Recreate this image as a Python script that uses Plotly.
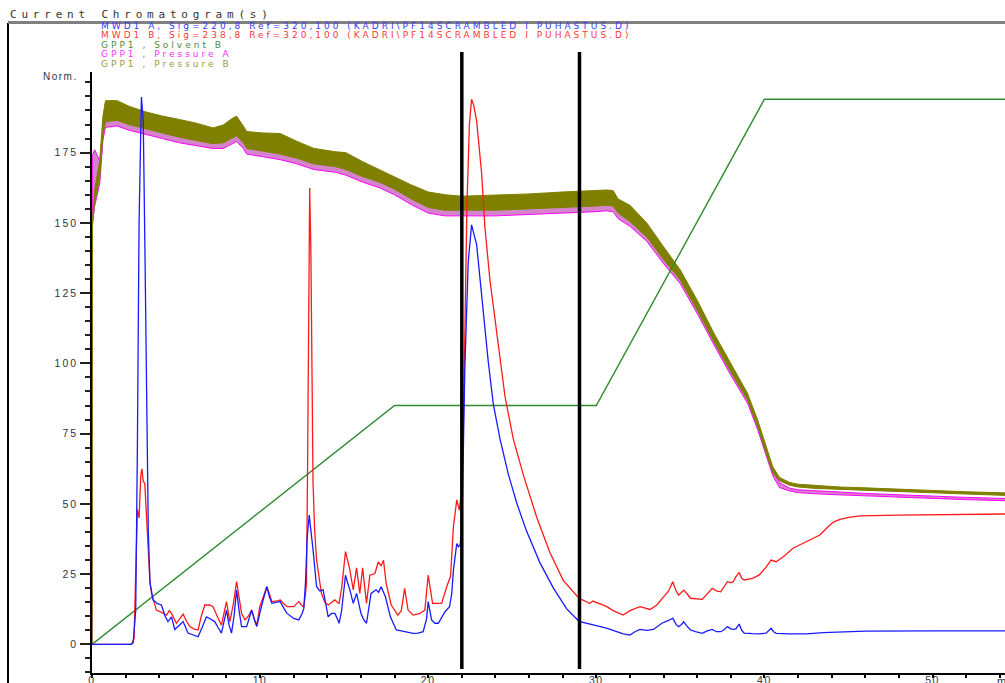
import plotly.graph_objects as go

# ---- MWD1 A (220 nm) ----
t_a = [0, 2.3, 2.45, 2.6, 2.7, 2.8, 2.94, 3.05, 3.15, 3.25, 3.35, 3.45, 3.63, 3.9, 4.13, 4.35, 4.52,
       4.73, 4.92, 5.15, 5.42, 5.71, 6.0, 6.31, 6.55, 6.81, 7.05, 7.3, 7.5, 7.7, 7.85, 8.0, 8.15, 8.3,
       8.45, 8.6, 8.75, 8.9, 9.2, 9.35, 9.5, 9.65, 9.8, 10.1, 10.4, 10.55, 10.7, 11.0, 11.2, 11.4, 11.6,
       12.0, 12.3, 12.5, 12.6, 12.7, 12.8, 12.92, 13.05, 13.15, 13.36, 13.55, 13.75, 13.9, 14.05, 14.25,
       14.45, 14.6, 14.7, 14.85, 15.08, 15.2, 15.34, 15.54, 15.74, 16.0, 16.15, 16.33, 16.6, 16.9, 17.05,
       17.2, 17.45, 17.75, 18.1, 18.4, 18.7, 19.1, 19.4, 19.7, 19.9, 20.0, 20.2, 20.4, 20.6, 20.85, 21.0,
       21.27, 21.4, 21.5, 21.7, 21.8, 21.9, 22.0, 22.1, 22.18, 22.38, 22.58, 22.88, 23.08, 23.27, 23.57,
       23.87, 24.27, 24.77, 25.26, 25.85, 26.65, 27.44, 28.24, 28.97, 29.6, 30.2, 30.6, 31.0, 31.6, 32.0,
       32.3, 32.6, 33.0, 33.4, 33.9, 34.3, 34.55, 34.75, 34.9, 35.05, 35.2, 35.4, 35.6, 35.9, 36.3, 36.6,
       36.9, 37.15, 37.4, 37.6, 37.8, 38.0, 38.15, 38.3, 38.5, 38.65, 38.8, 39.3, 39.7, 40.1, 40.4, 40.55,
       40.7, 41.5, 42.5, 43.5, 44.7, 46, 50, 54.4]
sig_a = [0, 0, 0.5, 12, 70, 150, 194.8, 186, 140, 80, 40, 22, 15.8, 14.5, 14, 10, 8.1,
         9.8, 5.3, 6.5, 8.1, 4.0, 3.3, 2.7, 6, 9.8, 9, 8.1, 6, 4.0, 8, 12.2, 7, 4.0,
         10, 19.3, 12, 6.3, 6.3, 9, 12.2, 9, 6.3, 14, 20.5, 17, 14.6, 15, 15.2, 13, 11,
         9.2, 8.7, 11, 12.8, 22, 38, 46, 40, 33.6, 20.5, 19, 19.4, 14, 9.8, 11,
         11, 9, 7.5, 12, 24.6, 22, 19.4, 14.6, 18.1, 11, 9, 7.5, 18.1, 19.4, 18.5,
         20.5, 17, 9.8, 5.1, 4.8, 4.5, 3.9, 4, 4.5, 9, 15.2, 8.7, 7.5, 7.5, 10, 11.6,
         13.4, 18, 26.4, 35.9, 34.7, 35.5, 40, 70, 98.3, 136, 149.3, 142.3, 129.8, 117.2, 100.8,
         85.7, 73.1, 60.5, 50.4, 40.3, 29, 20.1, 12.6, 8.2, 7.3, 6.5, 5.8, 5, 3.7, 3.3,
         4.5, 5.3, 5.0, 5.3, 7.5, 8.5, 9.3, 7, 6.3, 7, 8.0, 6.5, 5.1, 4.5, 3.9, 4.8,
         5.3, 4.5, 4.5, 5.2, 6.3, 5.5, 5.3, 5.5, 7.2, 5, 4.0, 3.8, 3.7, 4, 5.7, 4.5,
         3.9, 3.7, 3.7, 4.2, 4.5, 4.7, 4.8, 4.8]

# ---- MWD1 B (238 nm) ----
t_b = [0, 2.35, 2.5, 2.6, 2.7, 2.8, 2.9, 2.97, 3.05, 3.14, 3.25, 3.33, 3.45, 3.54, 3.83, 4.1, 4.43,
       4.6, 4.73, 5.02, 5.2, 5.42, 5.6, 5.82, 6.05, 6.31, 6.5, 6.71, 7.0, 7.2, 7.45, 7.7, 7.85, 8.0,
       8.2, 8.4, 8.6, 8.75, 8.9, 9.1, 9.3, 9.5, 9.65, 9.8, 9.98, 10.2, 10.4, 10.55, 10.7, 11.0, 11.2,
       11.4, 11.6, 12.0, 12.3, 12.45, 12.6, 12.7, 12.76, 12.82, 12.88, 12.95, 13.02, 13.1, 13.15, 13.25,
       13.36, 13.65, 13.85, 14.05, 14.25, 14.45, 14.6, 14.7, 14.85, 15.0, 15.08, 15.2, 15.34, 15.54,
       15.74, 15.93, 16.1, 16.33, 16.53, 16.83, 17.03, 17.2, 17.34, 17.5, 17.8, 18.2, 18.4, 18.6, 18.8,
       19.1, 19.5, 19.8, 20.0, 20.26, 20.5, 20.8, 21.1, 21.33, 21.5, 21.7, 21.85, 22.0, 22.1, 22.2, 22.3,
       22.45, 22.58, 22.7, 22.88, 23.18, 23.37, 23.67, 24.07, 24.57, 25.06, 25.65, 26.45, 27.24, 28.04,
       28.97, 29.3, 29.6, 29.8, 30.2, 30.6, 31.0, 31.6, 32.0, 32.6, 33.2, 33.6, 34.0, 34.3, 34.55, 34.75,
       34.9, 35.05, 35.2, 35.4, 35.6, 36.3, 36.6, 36.9, 37.15, 37.4, 37.6, 37.8, 38.0, 38.15, 38.3, 38.5,
       38.65, 38.8, 39.3, 39.7, 40.1, 40.4, 40.7, 41.2, 41.7, 42.5, 43.3, 43.7, 44.1, 44.5, 45.1, 45.7,
       48, 54.4]
sig_b = [0, 0, 2, 25, 48, 45, 60, 62.5, 58, 57.3, 45, 33.6, 22, 18.1, 12.2, 11.5, 10.4,
         12, 11.0, 7.5, 9, 10.8, 8.5, 6.3, 5.5, 5.1, 10, 14.0, 14, 13.4, 10, 6.8, 11, 15.2,
         8.1, 14, 22.3, 16, 11, 8.7, 10, 12.2, 9, 6.8, 13.4, 17, 20.5, 18, 15.2, 15.5, 15.8,
         14.5, 13.4, 13.4, 15.2, 14, 13.4, 18, 21.7, 60, 130, 162.4, 140, 80, 57.3, 40,
         30, 18.1, 15, 14.0, 15, 15.8, 15, 14.6, 20, 30, 33, 30, 26.5, 19.4,
         27.2, 18.1, 27.2, 14.6, 24.6, 25.2, 29.3, 28, 29.9, 21.7, 14, 10.4, 12, 19.9, 12.2,
         10.4, 11, 12.2, 24.6, 14.6, 14.5, 14.6, 20.5, 24.2, 41.9, 51.4, 47.8, 55, 80, 120, 155,
         185, 194, 192, 186.4, 167.5, 148.6, 129.8, 110.9, 88.2, 73.1, 60.5, 45.3, 32.7, 22.7,
         16.4, 15.5, 14.5, 15.4, 14.5, 13.5, 12, 10.4, 12, 13.4, 12.4, 14, 16.9, 19, 22.3, 19,
         17.5, 18.5, 19.3, 18, 16.4, 16.0, 18, 19.9, 19, 18.7, 20.5, 22.3, 22, 22.3, 24, 25.6,
         23.5, 22.9, 23.5, 24.7, 27.5, 30, 29.4, 31.5, 34.2, 36.5, 38.9, 41.3, 43.5, 44.5, 45.3, 45.7,
         46, 46.4]

# ---- GPP1 Solvent B program ----
t_solv = [0, 18, 30, 40, 54.4]
solvent_b = [0, 85, 85, 194, 194]

# ---- GPP1 pressure traces (upper / lower edge of the noisy signal band) ----
t_p = [0, 0.02, 0.16, 0.46, 0.65, 0.8, 1.5, 2.2, 3.2, 4.2, 5.2, 6.2, 7.2, 7.8, 8.3, 8.6, 9.0, 9.2,
       10.2, 11.2, 12.2, 13.2, 14.5, 15.1, 16.1, 17.1, 18, 19, 20, 21, 22, 24, 26, 28, 30, 30.6, 31.0,
       31.3, 32, 33, 34, 35, 36, 37, 38, 39, 39.6, 40.1, 40.5, 40.9, 41.5, 42, 43, 44.5, 46, 48, 50,
       52, 54.4]
press_b_hi = [0, 150, 162, 172, 188, 193.5, 193.5, 191.5, 189.5, 188, 186.8, 185.5, 183.8, 184.8, 187,
              188, 184.5, 182.5, 182, 181.8, 179, 176.5, 175.3, 175, 171.8, 169, 166.5, 163.5, 161,
              160, 159.5, 159.8, 160.3, 161, 161.5, 161.7, 161.5, 158.5, 156.3, 150, 141.5, 133.2,
              122.5, 110.7, 100, 89.3, 79.8, 70.3, 63.2, 59.4, 57.6, 57.0, 56.5, 56.0, 55.7, 55.2,
              54.8, 54.3, 53.9]
press_b_lo = [0, 148, 157, 166, 181, 186, 186.5, 185, 183.5, 182, 180.5, 179.3, 178.2, 178.5, 180,
              181, 178.5, 176.5, 175.5, 174.5, 173, 171, 170, 169, 166.5, 164.5, 162, 158.5, 155.5,
              154.5, 154.5, 154.5, 155, 155.5, 156, 156.3, 156, 153.5, 150.5, 145, 137, 129.6,
              119, 107.7, 97, 86.9, 77.4, 68, 61, 58.2, 56.6, 56.0, 55.5, 55.0, 54.7, 54.3,
              53.9, 53.5, 53.0]
press_a_hi = [0, 174, 176, 172, 184, 189, 189, 187.5, 186, 184.5, 183, 182, 180.5, 181, 183,
              184, 181, 179, 178.5, 177.5, 175.5, 173.5, 172.5, 171.5, 169, 167, 164.5, 161, 158,
              157, 157, 157, 157.5, 158, 158.5, 158.8, 158.5, 156, 153.5, 147.5, 139.5, 131.5,
              121, 109.5, 98.5, 88, 78.5, 69, 62, 57.5, 55.6, 55.0, 54.6, 54.2, 53.7, 53.2,
              52.8, 52.3, 51.9]
press_a_lo = [0, 150, 156, 164, 179.5, 184, 184.5, 183, 181.5, 180, 178.5, 177.5, 176.5, 176.5, 178,
              179, 176.5, 174.5, 173.5, 172.5, 171, 169, 168, 167, 164.5, 162.5, 160, 156.5, 153.5,
              152.5, 152.5, 152.5, 153, 153.5, 154, 154.3, 154, 151.5, 148.8, 143.5, 135.5, 128.3,
              117.8, 106.6, 95.8, 85.8, 76.4, 67, 60, 55.8, 54.6, 54.0, 53.6, 53.2, 52.7, 52.3,
              51.9, 51.5, 51.1]

# fraction cut markers (min)
cut_times = [22.0, 29.0]

# axis ticks
y_ticks = [0, 25, 50, 75, 100, 125, 150, 175]
x_ticks = [0, 10, 20, 30, 40, 50]

legend_lines = [
    ("MWD1 A, Sig=220,8 Ref=320,100 (KADRI\\PF14SCRAMBLED I PUHASTUS.D)", "#3a3aff"),
    ("MWD1 B, Sig=238,8 Ref=320,100 (KADRI\\PF14SCRAMBLED I PUHASTUS.D)", "#ff3a3a"),
    ("GPP1 , Solvent B", "#4d8c3a"),
    ("GPP1 , Pressure A", "#ff33ff"),
    ("GPP1 , Pressure B", "#9c9c3c"),
]

W, H = 1005, 683
L, T, B = 92, 72, 10
plot_h = H - T - B
plot_w = W - L


def py(px_y):
    """page pixel row -> paper y"""
    return (H - B - px_y) / plot_h


def px(px_x):
    """page pixel column -> paper x"""
    return (px_x - L) / plot_w


def spaced(text, gap):
    return f'<span style="letter-spacing:{gap}px">{text}</span>'


fig = go.Figure()

# pressure A band (magenta, mostly hidden under pressure B)
fig.add_trace(go.Scatter(
    x=t_p + t_p[::-1], y=press_a_hi + press_a_lo[::-1],
    fill="toself", fillcolor="rgba(205,110,190,0.85)",
    line=dict(color="#ff00ff", width=1), mode="lines", hoverinfo="skip"))
# pressure B band (olive)
fig.add_trace(go.Scatter(
    x=t_p + t_p[::-1], y=press_b_hi + press_b_lo[::-1],
    fill="toself", fillcolor="#808000",
    line=dict(color="#808000", width=1), mode="lines", hoverinfo="skip"))
# solvent B program
fig.add_trace(go.Scatter(x=t_solv, y=solvent_b, mode="lines",
                         line=dict(color="#2e8b2e", width=1.4)))
# detector signals
fig.add_trace(go.Scatter(x=t_b, y=sig_b, mode="lines",
                         line=dict(color="#ff1a1a", width=1.3)))
fig.add_trace(go.Scatter(x=t_a, y=sig_a, mode="lines",
                         line=dict(color="#1a1aff", width=1.3)))

shapes = []
for tc in cut_times:
    shapes.append(dict(type="line", xref="x", yref="paper", x0=tc, x1=tc,
                       y0=py(669), y1=py(52), line=dict(color="black", width=3.5), layer="above"))
# frame around the chromatogram window
shapes.append(dict(type="line", xref="paper", yref="paper", x0=px(8), x1=px(8),
                   y0=py(683), y1=py(23), line=dict(color="black", width=2)))
shapes.append(dict(type="line", xref="paper", yref="paper", x0=px(8), x1=1.0,
                   y0=py(22.5), y1=py(22.5), line=dict(color="#808080", width=3)))

annotations = [
    dict(text=spaced("Current Chromatogram(s)", 4.8), xref="paper", yref="paper",
         x=px(8), y=py(14.5), xanchor="left", yanchor="middle", showarrow=False,
         font=dict(family="DejaVu Sans Mono", size=11, color="#333333")),
    dict(text=spaced("Norm.", 1.5), xref="paper", yref="paper", x=px(80), y=py(76),
         xanchor="right", yanchor="middle", showarrow=False,
         font=dict(family="Liberation Sans", size=10, color="#333344")),
    dict(text="min", xref="paper", yref="paper", x=px(995), y=py(673),
         xanchor="left", yanchor="top", showarrow=False,
         font=dict(family="Liberation Sans", size=11, color="#333344")),
]
legend_rows = [26, 35.4, 44.8, 54.2, 63.6]
for (txt, col), row in zip(legend_lines, legend_rows):
    annotations.append(dict(text=spaced(txt, 3.0), xref="paper", yref="paper",
                            x=px(99), y=py(row), xanchor="left", yanchor="middle",
                            showarrow=False,
                            font=dict(family="DejaVu Sans", size=9, color=col)))

tick_font = dict(family="Liberation Sans", size=10.5, color="#333344")

fig.update_layout(
    width=W, height=H,
    margin=dict(l=L, r=0, t=T, b=B, autoexpand=False),
    paper_bgcolor="white", plot_bgcolor="white",
    showlegend=False,
    shapes=shapes, annotations=annotations,
    xaxis=dict(range=[0, plot_w / 16.81], showgrid=False, zeroline=False, automargin=False,
               showline=True, linecolor="black", linewidth=1.5,
               ticks="outside", ticklen=3, tickwidth=1.5, tickcolor="black",
               tickvals=x_ticks, ticktext=[spaced(str(v), 1.5) for v in x_ticks],
               ticklabelstandoff=-6,
               minor=dict(dtick=2, ticks="outside", ticklen=3, tickwidth=1.5, tickcolor="black"),
               tickfont=tick_font),
    yaxis=dict(range=[-10.2, 203.7], showgrid=False, zeroline=False, automargin=False,
               showline=True, linecolor="black", linewidth=1.5,
               ticks="outside", ticklen=10, tickwidth=1.5, tickcolor="#222222",
               tickvals=y_ticks, ticktext=[spaced(str(v), 2) for v in y_ticks],
               minor=dict(dtick=5, tick0=0, ticks="outside", ticklen=5, tickwidth=1.5,
                          tickcolor="#222222"),
               tickfont=tick_font),
)

fig.write_html("out.html")
